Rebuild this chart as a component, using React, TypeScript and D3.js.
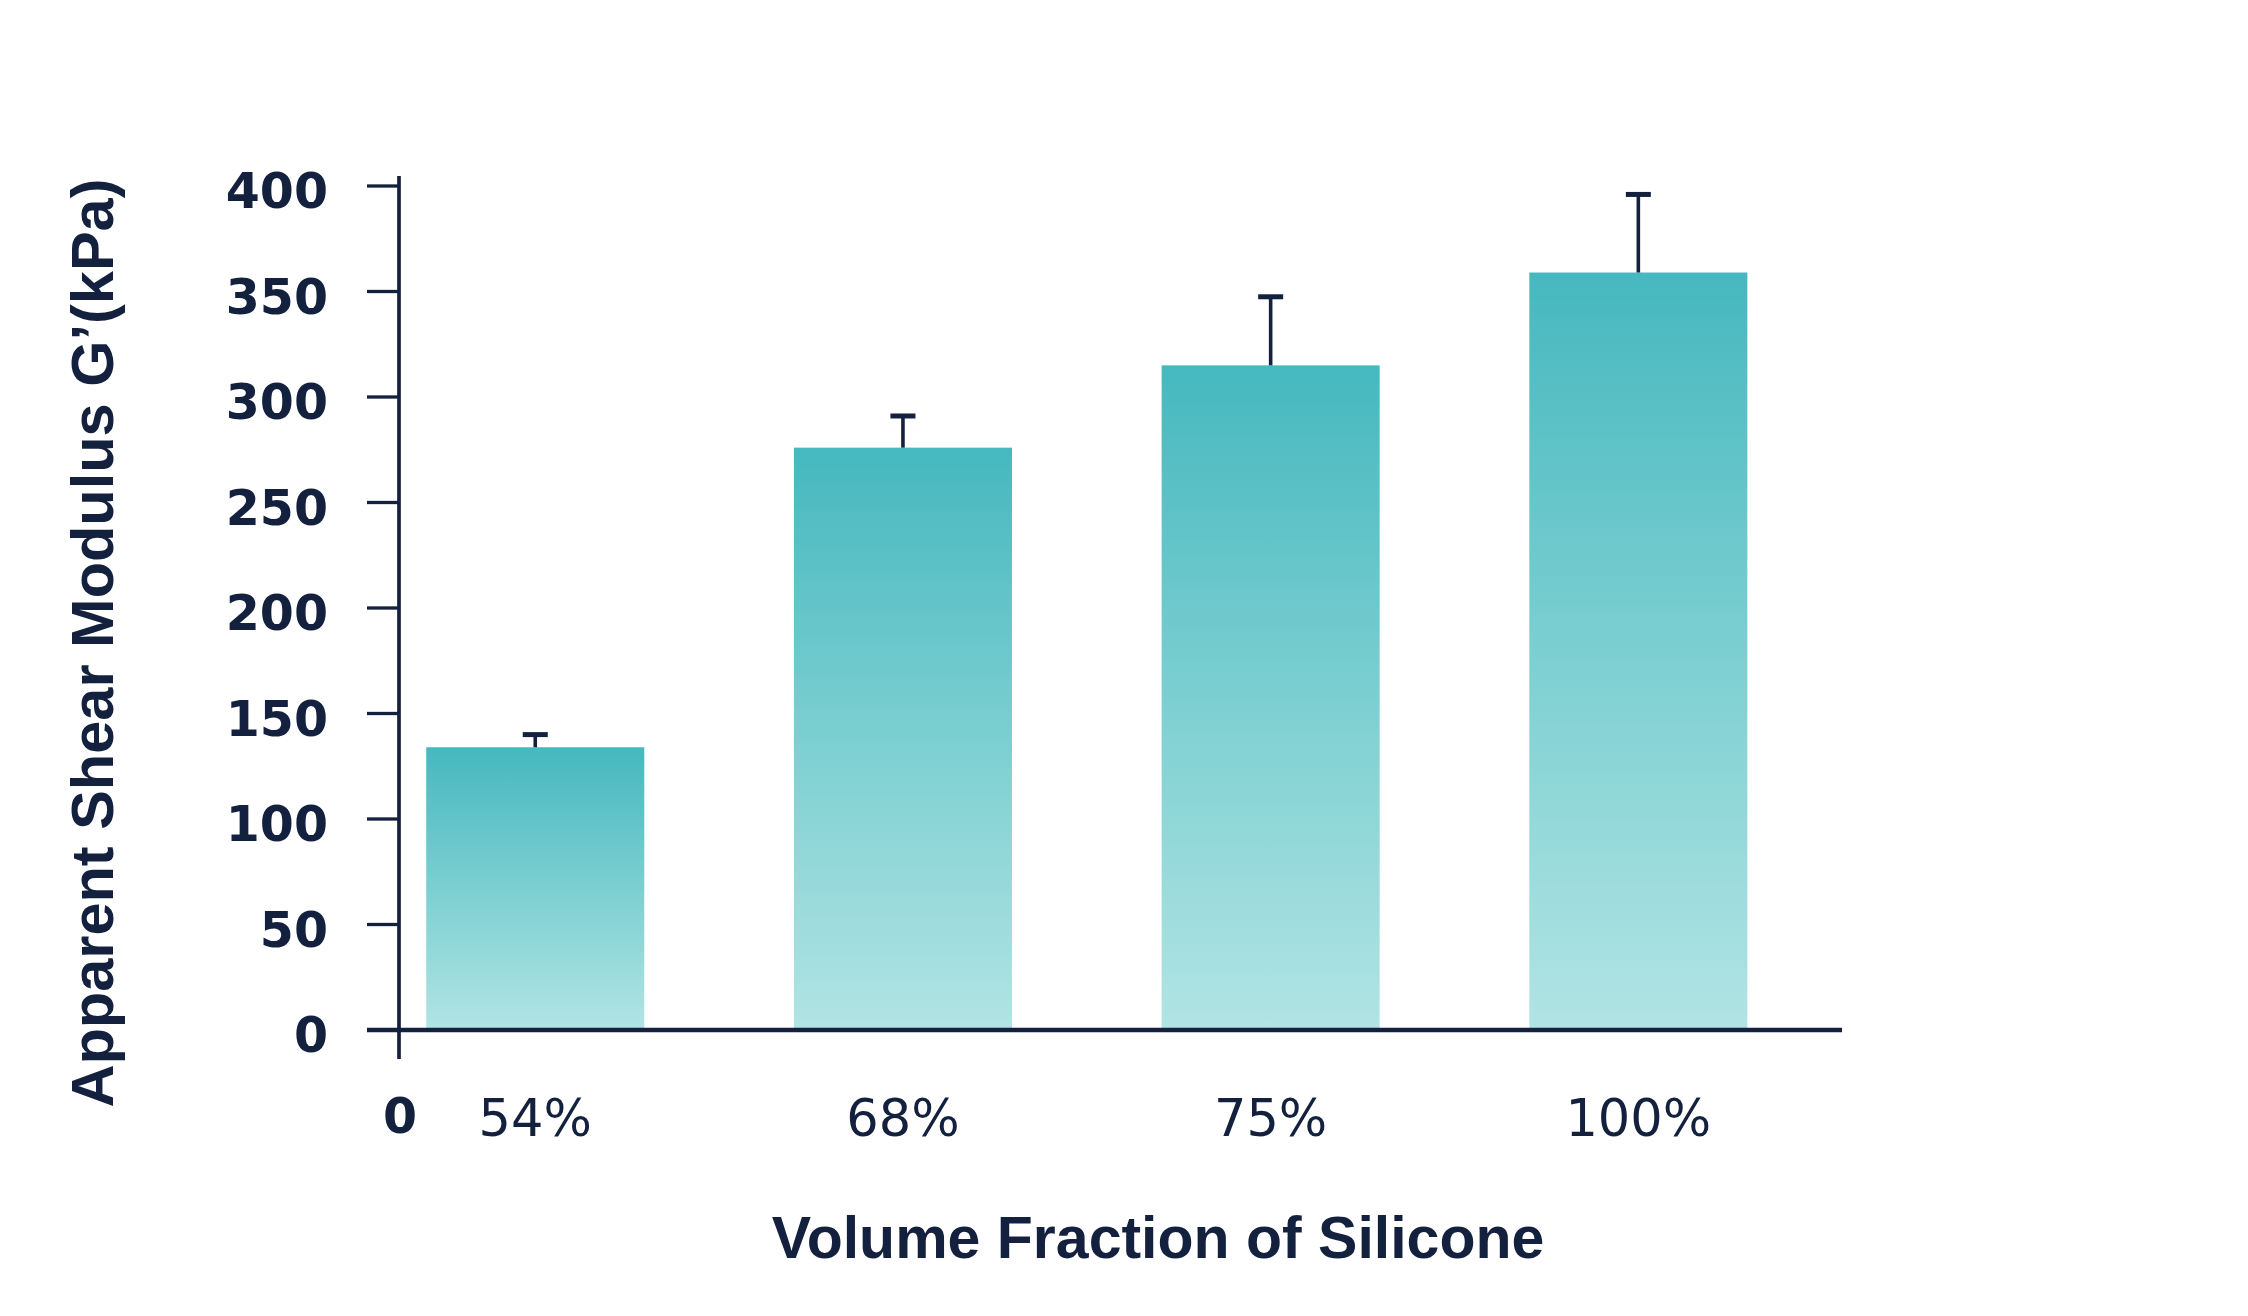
import React from "react";
import * as d3 from "d3";

const categories = ["54%", "68%", "75%", "100%"];
const values = [134, 276, 315, 359];
const errors = [6, 15, 32.5, 37];
const yTicks = [0, 50, 100, 150, 200, 250, 300, 350, 400];
const yTitle = "Apparent Shear Modulus G’(kPa)";
const xTitle = "Volume Fraction of Silicone";

const W = 2248;
const H = 1316;
const INK = "#13213e";
const AXIS_X = 399;
const TICK_FONT = "'DejaVu Sans', sans-serif";
const TITLE_FONT = "'Liberation Sans', Arial, sans-serif";

export default function App() {
  const y = d3.scaleLinear().domain([0, 400]).range([1030, 186]);
  const x = d3
    .scaleBand<string>()
    .domain(categories)
    .range([352.7, 1820.9])
    .paddingInner(0.407)
    .paddingOuter(0.2);
  const bw = x.bandwidth();

  return (
    <svg
      width={W}
      height={H}
      style={{ position: "absolute", left: 0, top: 0, background: "#fff" }}
    >
      <defs>
        <linearGradient id="barGrad" x1="0" y1="0" x2="0" y2="1">
          <stop offset="0%" stopColor="#46b8bf" />
          <stop offset="50%" stopColor="#7ccfd1" />
          <stop offset="100%" stopColor="#b2e4e4" />
        </linearGradient>
      </defs>
      <rect width={W} height={H} fill="#fff" />

      {/* bars */}
      {categories.map((c, i) => (
        <rect
          key={c}
          x={x(c)}
          y={y(values[i])}
          width={bw}
          height={y(0) - y(values[i])}
          fill="url(#barGrad)"
        />
      ))}

      {/* error bars */}
      {categories.map((c, i) => {
        const cx = (x(c) as number) + bw / 2;
        const top = y(values[i] + errors[i]);
        return (
          <g key={"e" + c}>
            <line
              x1={cx}
              x2={cx}
              y1={y(values[i])}
              y2={top}
              stroke={INK}
              strokeWidth={3.6}
            />
            <line
              x1={cx - 12.5}
              x2={cx + 12.5}
              y1={top}
              y2={top}
              stroke={INK}
              strokeWidth={5}
            />
          </g>
        );
      })}

      {/* y axis */}
      <line
        x1={AXIS_X}
        x2={AXIS_X}
        y1={y(400) - 10}
        y2={y(0) + 29}
        stroke={INK}
        strokeWidth={3.7}
      />
      {yTicks.map((t) => (
        <g key={"t" + t}>
          <line
            x1={AXIS_X - 32}
            x2={AXIS_X}
            y1={y(t)}
            y2={y(t)}
            stroke={INK}
            strokeWidth={3.3}
          />
          <text
            x={328}
            y={y(t) + 22}
            textAnchor="end"
            fontFamily={TICK_FONT}
            fontWeight="bold"
            fontSize={49}
            fill={INK}
          >
            {t}
          </text>
        </g>
      ))}

      {/* x axis */}
      <line
        x1={AXIS_X - 32}
        x2={1842}
        y1={y(0)}
        y2={y(0)}
        stroke={INK}
        strokeWidth={4.6}
      />
      <text
        x={AXIS_X + 1}
        y={1133}
        textAnchor="middle"
        fontFamily={TICK_FONT}
        fontWeight="bold"
        fontSize={49}
        fill={INK}
      >
        0
      </text>
      {categories.map((c) => (
        <text
          key={"l" + c}
          x={(x(c) as number) + bw / 2}
          y={1136}
          textAnchor="middle"
          fontFamily={TICK_FONT}
          fontSize={51}
          fill={INK}
        >
          {c}
        </text>
      ))}

      {/* titles */}
      <text
        x={1158}
        y={1258}
        textAnchor="middle"
        fontFamily={TITLE_FONT}
        fontWeight="bold"
        fontSize={59}
        fill={INK}
      >
        {xTitle}
      </text>
      <text
        transform={`translate(113, 643) rotate(-90)`}
        textAnchor="middle"
        fontFamily={TITLE_FONT}
        fontWeight="bold"
        fontSize={59.5}
        fill={INK}
      >
        {yTitle}
      </text>
    </svg>
  );
}
